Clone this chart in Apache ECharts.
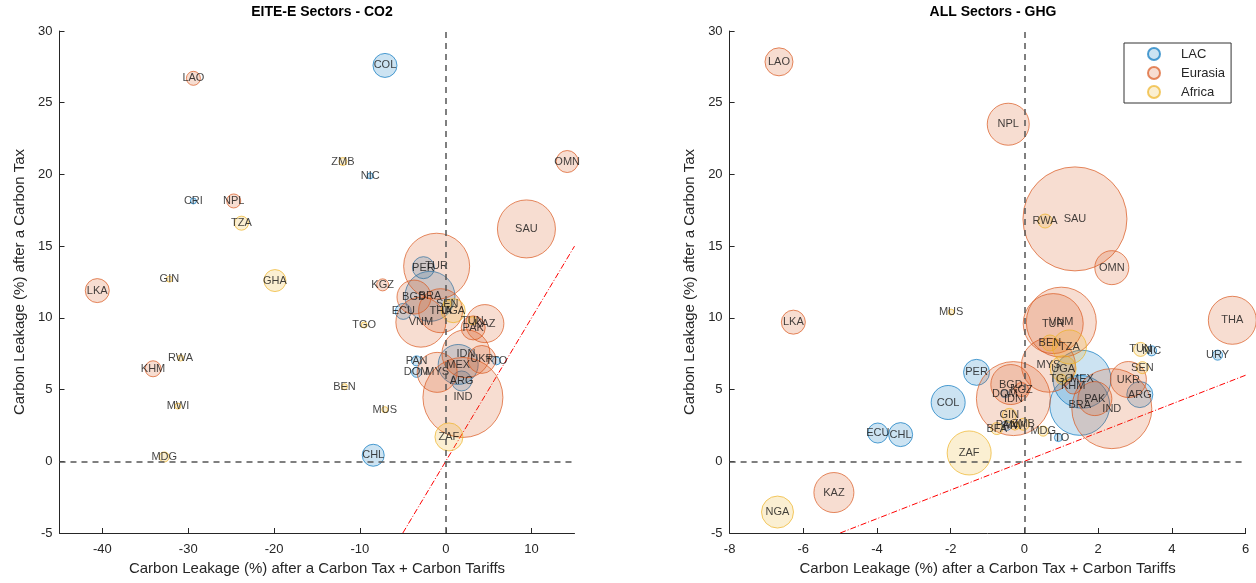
<!DOCTYPE html>
<html>
<head>
<meta charset="utf-8">
<script src="https://cdn.jsdelivr.net/npm/echarts@6/dist/echarts.min.js"></script>
<style>html,body{margin:0;padding:0;background:#fff}#chart{width:1256px;height:583px}</style>
</head>
<body>
<div id="chart"></div>
<script>
// ---------- DATA ----------
const regions = ['LAC', 'Eurasia', 'Africa'];
const regionColors = ['#0072BD', '#D95319', '#EDB120'];

// Left panel: EITE-E Sectors - CO2
const leftCountries = ['COL','CRI','NIC','PER','BRA','ECU','MEX','TTO','ARG','PAN','DOM','CHL',
  'LAO','NPL','OMN','SAU','LKA','KGZ','KHM','TUR','BGD','VNM','THA','KAZ','PAK','IDN','UKR','IND','MYS',
  'ZMB','TZA','GIN','GHA','TGO','RWA','BEN','MWI','MUS','MDG','ZAF','SEN','UGA','TUN'];
const leftRegion = [0,0,0,0,0,0,0,0,0,0,0,0,
  1,1,1,1,1,1,1,1,1,1,1,1,1,1,1,1,1,
  2,2,2,2,2,2,2,2,2,2,2,2,2,2];
const leftX = [-7.08,-29.4,-8.8,-2.6,-1.84,-4.95,1.45,5.9,1.85,-3.4,-3.4,-8.45,
  -29.4,-24.7,14.15,9.4,-40.6,-7.35,-34.1,-1.06,-3.7,-2.9,-0.6,4.56,3.2,2.35,4.2,2.0,-1.0,
  -11.98,-23.8,-32.2,-19.9,-9.5,-30.9,-11.8,-31.2,-7.1,-32.8,0.37,0.17,0.87,3.1];
const leftY = [27.6,18.15,19.9,13.5,11.5,10.45,6.75,7.0,5.6,7.0,6.2,0.42,
  26.7,18.15,20.9,16.2,11.9,12.3,6.45,13.6,11.45,9.7,10.5,9.6,9.3,7.5,7.1,4.45,6.2,
  20.9,16.6,12.7,12.6,9.5,7.2,5.2,3.85,3.6,0.3,1.7,11.0,10.5,9.8];
const leftBubble = [12,3,3,11,25,8,20,4,10,5,5,11,
  7,7,11,29,12,6,8,33,17,25,22,19,12,24,14,40,20,
  4,7,3,11,3,3,3,3,3,5,14,4,12,4];

// Right panel: ALL Sectors - GHG
const rightCountries = ['PER','COL','ECU','CHL','DOM','PAN','TTO','MEX','BRA','ARG','NIC','URY',
  'LAO','NPL','SAU','OMN','LKA','KAZ','IDN','BGD','KGZ','VNM','TUR','MYS','KHM','PAK','IND','UKR','THA',
  'RWA','MUS','ZAF','NGA','GIN','BFA','MWI','ZMB','MDG','BEN','TZA','UGA','TGO','SEN','TUN'];
const rightRegion = [0,0,0,0,0,0,0,0,0,0,0,0,
  1,1,1,1,1,1,1,1,1,1,1,1,1,1,1,1,1,
  2,2,2,2,2,2,2,2,2,2,2,2,2,2,2];
const rightX = [-1.3,-2.07,-3.98,-3.36,-0.53,-0.48,0.92,1.56,1.5,3.13,3.45,5.24,
  -6.66,-0.44,1.37,2.37,-6.27,-5.17,-0.3,-0.37,-0.08,1.0,0.78,0.65,1.32,1.91,2.37,2.82,5.64,
  0.56,-1.99,-1.5,-6.7,-0.41,-0.75,-0.26,-0.03,0.51,0.69,1.22,1.05,1.0,3.2,3.15];
const rightY = [6.2,4.1,1.97,1.86,4.7,2.5,1.65,5.72,3.9,4.65,7.7,7.4,
  27.85,23.5,16.9,13.5,9.7,-2.18,4.37,5.35,5.0,9.7,9.6,6.7,5.25,4.37,3.67,5.7,9.83,
  16.75,10.4,0.58,-3.54,3.2,2.28,2.45,2.58,2.1,8.25,7.97,6.46,5.72,6.53,7.8];
const rightBubble = [13,17,10,12,4,5,4,29,30,13,5,5,
  14,21,52,17,12,20,37,20,7,35,30,27,8,17,40,18,24,
  7,3,22,16,7,6,4,6,5,8,17,13,5,6,7];

const xTicksLeft = [-40,-30,-20,-10,0,10];
const leftRefLine = [-5, 15];
const rightRefLine = [-5, 6];

// ---------- BUILD ----------
const FONT = 'Liberation Sans, Arial, Helvetica, sans-serif';
function hexA(hex, a){
  const n = parseInt(hex.slice(1),16);
  return `rgba(${(n>>16)&255},${(n>>8)&255},${n&255},${a})`;
}
function bubbleSeries(names, reg, xs, ys, bs, gi){
  const out = [];
  regions.forEach((rn, ri) => {
    const data = [];
    names.forEach((nm, i) => { if (reg[i] === ri) data.push({name: nm, value: [xs[i], ys[i], bs[i]]}); });
    out.push({
      type: 'scatter', name: rn, xAxisIndex: gi, yAxisIndex: gi,
      data: data,
      symbol: 'circle',
      symbolSize: v => v[2]*2,
      itemStyle: {color: hexA(regionColors[ri], 0.25), borderColor: hexA(regionColors[ri], 0.85), borderWidth: 1},
      label: {show: true, position: 'inside', formatter: p => p.name, color: '#111', fontSize: 11, fontFamily: FONT},
      emphasis: {disabled: true},
      z: 3
    });
  });
  return out;
}
const axisCommon = {
  axisLine: {show: true, onZero: false, lineStyle: {color: '#262626', width: 1}},
  axisTick: {show: true, inside: true, length: 5, lineStyle: {color: '#262626'}},
  axisLabel: {color: '#262626', fontSize: 13, fontFamily: FONT},
  splitLine: {show: false},
  nameTextStyle: {color: '#262626', fontSize: 15, fontFamily: FONT},
  nameLocation: 'middle'
};
function xAxisLeft(){
  return Object.assign({}, axisCommon, {
    type: 'value', gridIndex: 0, min: -45, max: 15,
    name: 'Carbon Leakage (%) after a Carbon Tax + Carbon Tariffs', nameGap: 27,
    axisTick: Object.assign({}, axisCommon.axisTick, {customValues: xTicksLeft}),
    axisLabel: Object.assign({}, axisCommon.axisLabel, {customValues: xTicksLeft, margin: 10})
  });
}
function xAxisRight(){
  return Object.assign({}, axisCommon, {
    type: 'value', gridIndex: 1, min: -8, max: 6, interval: 2,
    name: 'Carbon Leakage (%) after a Carbon Tax + Carbon Tariffs', nameGap: 27,
    axisLabel: Object.assign({}, axisCommon.axisLabel, {margin: 10})
  });
}
function yAxis(gi){
  return Object.assign({}, axisCommon, {
    type: 'value', gridIndex: gi, min: -5, max: 30, interval: 5,
    name: 'Carbon Leakage (%) after a Carbon Tax', nameGap: 32,
    axisLabel: Object.assign({}, axisCommon.axisLabel, {margin: 7})
  });
}
function refSeries(gi, rng){
  return {
    type: 'line', xAxisIndex: gi, yAxisIndex: gi, symbol: 'none', silent: true,
    data: rng.map(v => [v, v]),
    lineStyle: {color: '#FF0000', width: 1, type: [6, 2, 1, 2]},
    markLine: {
      silent: true, symbol: 'none', label: {show: false},
      lineStyle: {color: '#555', width: 1.5, type: [6, 5]},
      data: [{xAxis: 0}, {yAxis: 0}]
    },
    z: 2
  };
}

const option = {
  backgroundColor: '#fff',
  animation: false,
  title: [
    {text: 'EITE-E Sectors - CO2', left: 317, top: 0, textAlign: 'center',
     textStyle: {fontSize: 14, fontWeight: 'bold', color: '#000', fontFamily: FONT}},
    {text: 'ALL Sectors - GHG', left: 988, top: 0, textAlign: 'center',
     textStyle: {fontSize: 14, fontWeight: 'bold', color: '#000', fontFamily: FONT}}
  ],
  legend: {
    data: regions, orient: 'vertical', left: 1124, top: 43,
    borderColor: '#333', borderWidth: 1, padding: [4, 6, 4, 23],
    itemWidth: 12, itemHeight: 12, itemGap: 5,
    icon: 'circle',
    textStyle: {fontSize: 13, color: '#262626', fontFamily: FONT, padding: [0, 0, 0, 16]},
    selectedMode: false
  },
  grid: [
    {left: 59.5, width: 515, top: 31, height: 502},
    {left: 729.6, width: 516, top: 31, height: 502}
  ],
  xAxis: [xAxisLeft(), xAxisRight()],
  yAxis: [yAxis(0), yAxis(1)],
  series: [
    refSeries(0, leftRefLine),
    refSeries(1, rightRefLine),
    ...bubbleSeries(leftCountries, leftRegion, leftX, leftY, leftBubble, 0),
    ...bubbleSeries(rightCountries, rightRegion, rightX, rightY, rightBubble, 1)
  ]
};
const chart = echarts.init(document.getElementById('chart'), null, {renderer: 'canvas'});
chart.setOption(option);
</script>
</body>
</html>
